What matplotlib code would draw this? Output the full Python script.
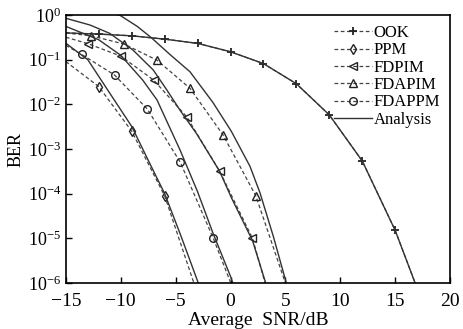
import numpy as np
import matplotlib.pyplot as plt

plt.rcParams['font.family'] = ['Liberation Serif', 'DejaVu Serif']
plt.rcParams['mathtext.fontset'] = 'stix'

# simulation points (dashed, with markers)
ook_x = [-15, -12, -9, -6, -3, 0, 3, 6, 9, 12, 15, 18]
ook_ber = [0.40, 0.376, 0.344, 0.29, 0.233, 0.151, 0.082, 0.029, 5.8e-3, 5.4e-4, 1.5e-5, 1.7e-7]

ppm_x = [-15, -12, -9, -6, -3]
ppm_ber = [0.091, 0.025, 2.5e-3, 8.9e-5, 5.6e-7]

fdpim_x = [-15, -13, -10, -7, -4, -1, 2, 3.4]
fdpim_ber = [0.32, 0.23, 0.121, 0.035, 5.3e-3, 3.2e-4, 1e-5, 6e-7]

fdapim_x = [-15, -12.7, -9.7, -6.7, -3.7, -0.7, 2.3, 5.3]
fdapim_ber = [0.40, 0.344, 0.225, 0.098, 0.023, 2.1e-3, 9e-5, 6e-7]

fdappm_x = [-15, -13.57, -10.57, -7.57, -4.57, -1.57, 0.5]
fdappm_ber = [0.21, 0.132, 0.0456, 7.8e-3, 5e-4, 1e-5, 5e-7]

# analysis curves (solid)
ana_ook_x = ook_x
ana_ook_ber = ook_ber

ana_ppm_x = [-15, -13, -11, -9, -7.5, -6, -4.5, -2.94, -2]
ana_ppm_ber = [0.234, 0.1, 0.0178, 3.2e-3, 5.6e-4, 1e-4, 1.1e-5, 1e-6, 2e-7]

ana_fdappm_x = [-15, -12, -10, -8, -6.7, -4.6, -3, -1.57, 0, 0.2, 1]
ana_fdappm_ber = [0.56, 0.28, 0.126, 0.035, 0.0126, 9.5e-4, 1.1e-4, 1.25e-5, 1.4e-6, 1e-6, 2.5e-7]

ana_fdpim_x = [-15, -12.8, -11, -8.9, -7.04, -5.8, -4.6, -3.09, -1, 0.1, 2, 3.2, 4]
ana_fdpim_ber = [0.85, 0.6, 0.39, 0.166, 0.059, 0.021, 7.4e-3, 2.2e-3, 3.2e-4, 7.9e-5, 8.9e-6, 1e-6, 2.5e-7]

ana_fdapim_x = [-12, -10.1, -8.5, -7.2, -5.5, -3.7, -1.6, 0.07, 1.77, 2.68, 3.9, 5.08, 6]
ana_fdapim_ber = [1.26, 1.0, 0.56, 0.31, 0.13, 0.054, 0.011, 2.5e-3, 4.1e-4, 1.05e-4, 1.1e-5, 1e-6, 2e-7]

fig = plt.figure(figsize=(4.64, 3.29), dpi=100)
ax = fig.add_axes([0.142, 0.140, 0.828, 0.814])

dash = dict(ls=(0, (3, 2)), lw=0.9, color='#444444', mfc='none', mec='#222222', ms=5.5)
solid = dict(ls='-', lw=1.0, color='#333333')

ax.plot(ook_x, ook_ber, marker='+', markevery=slice(1, None), mew=1.3, label='OOK', **dash)
ax.plot(ppm_x, ppm_ber, marker='d', markevery=slice(1, None), label='PPM', **dash)
ax.plot(fdpim_x, fdpim_ber, marker='<', markevery=slice(1, None), label='FDPIM', **dash)
ax.plot(fdapim_x, fdapim_ber, marker='^', markevery=slice(1, None), label='FDAPIM', **dash)
ax.plot(fdappm_x, fdappm_ber, marker='o', markevery=slice(1, None), label='FDAPPM', **dash)

ax.plot(ana_ook_x, ana_ook_ber, label='Analysis', **solid)
ax.plot(ana_ppm_x, ana_ppm_ber, **solid)
ax.plot(ana_fdappm_x, ana_fdappm_ber, **solid)
ax.plot(ana_fdpim_x, ana_fdpim_ber, **solid)
ax.plot(ana_fdapim_x, ana_fdapim_ber, **solid)

ax.set_yscale('log')
ax.set_xlim(-15, 20)
ax.set_ylim(1e-6, 1)
ax.set_xticks([-15, -10, -5, 0, 5, 10, 15, 20])
ax.set_xticklabels(['\u221215', '\u221210', '\u22125', '0', '5', '10', '15', '20'])
ax.set_yticks([10.0 ** k for k in range(-6, 1)])
ax.minorticks_off()
ax.tick_params(direction='in', labelsize=13, length=4, width=1)
ax.tick_params(axis='x', pad=7, labelsize=14)
for s in ax.spines.values():
    s.set_linewidth(1.2)
ax.set_xlabel('Average  SNR/dB', fontsize=14, labelpad=2)
ax.set_ylabel('BER', fontsize=13, labelpad=2)

ax.legend(loc='upper right', frameon=False, fontsize=12, handlelength=2.3,
          handletextpad=0.1, labelspacing=0.08, borderaxespad=0.2)

fig.savefig('out.png', dpi=100)
